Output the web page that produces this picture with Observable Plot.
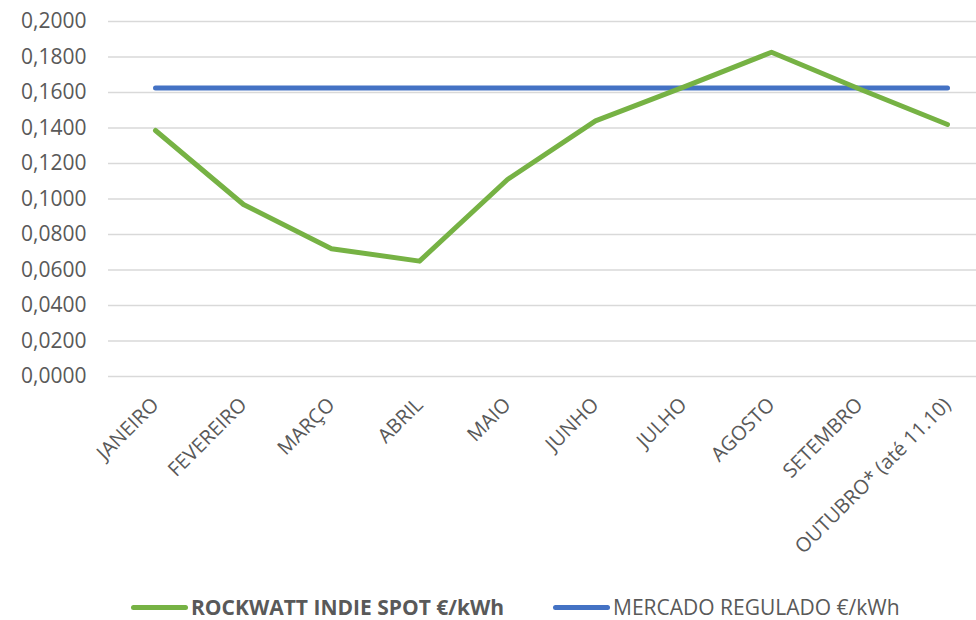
<!DOCTYPE html>
<html>
<head>
<meta charset="utf-8">
<script src="https://cdn.jsdelivr.net/npm/d3@7"></script>
<script src="https://cdn.jsdelivr.net/npm/@observablehq/plot@0.6"></script>
<style>
  html, body { margin: 0; padding: 0; background: #fff; }
  #chart { width: 976px; height: 585px; }
  #legend { position: relative; width: 976px; height: 35px; font-family: "Open Sans", sans-serif; font-size: 21px; color: #595959; }
  .item { position: absolute; top: 8px; display: flex; align-items: center; white-space: nowrap; }
  .sw { display: inline-block; width: 57px; height: 5px; border-radius: 3px; margin-right: 3px; }
</style>
</head>
<body>
<div id="chart"></div>
<div id="legend">
  <div class="item" style="left:131px"><span class="sw" style="background:#76B244"></span><b id="l1"></b></div>
  <div class="item" style="left:553px"><span class="sw" style="background:#4472C4"></span><span id="l2"></span></div>
</div>
<script>
const months = ["JANEIRO", "FEVEREIRO", "MARÇO", "ABRIL", "MAIO", "JUNHO", "JULHO", "AGOSTO", "SETEMBRO", "OUTUBRO* (até 11.10)"];
const rockwatt = [0.1386, 0.0969, 0.0720, 0.0650, 0.1110, 0.1440, 0.1630, 0.1827, 0.1620, 0.1420];
const regulado = [0.1625, 0.1625, 0.1625, 0.1625, 0.1625, 0.1625, 0.1625, 0.1625, 0.1625, 0.1625];
const yTicks = [0, 0.02, 0.04, 0.06, 0.08, 0.10, 0.12, 0.14, 0.16, 0.18, 0.20];
const seriesNames = ["ROCKWATT INDIE SPOT €/kWh", "MERCADO REGULADO €/kWh"];

document.getElementById("l1").textContent = seriesNames[0];
document.getElementById("l2").textContent = seriesNames[1];

const rows1 = months.map((m, i) => ({month: m, value: rockwatt[i]}));
const rows2 = months.map((m, i) => ({month: m, value: regulado[i]}));
const fmt = d => d3.format(".4f")(d).replace(".", ",");

const chart = Plot.plot({
  width: 976,
  height: 585,
  marginTop: 21,
  marginBottom: 209,
  marginLeft: 108,
  marginRight: 0,
  style: {fontFamily: "Open Sans, sans-serif", fontSize: "21px", color: "#595959", background: "#fff"},
  x: {type: "point", domain: months, range: [152, 950], padding: 0},
  y: {domain: [0, 0.2]},
  marks: [
    Plot.ruleY(yTicks, {stroke: "#d9d9d9", strokeWidth: 1.5}),
    Plot.axisY({ticks: yTicks, tickFormat: fmt, tickSize: 0, tickPadding: 22, label: null, fill: "#595959"}),
    Plot.axisX({tickRotate: -45, tickSize: 0, tickPadding: 25, label: null, fontSize: 20, fill: "#595959"}),
    Plot.line(rows2, {x: "month", y: "value", stroke: "#4472C4", strokeWidth: 5, strokeLinecap: "round"}),
    Plot.line(rows1, {x: "month", y: "value", stroke: "#76B244", strokeWidth: 5, strokeLinecap: "round", strokeLinejoin: "round"})
  ]
});
document.getElementById("chart").appendChild(chart);
</script>
</body>
</html>
